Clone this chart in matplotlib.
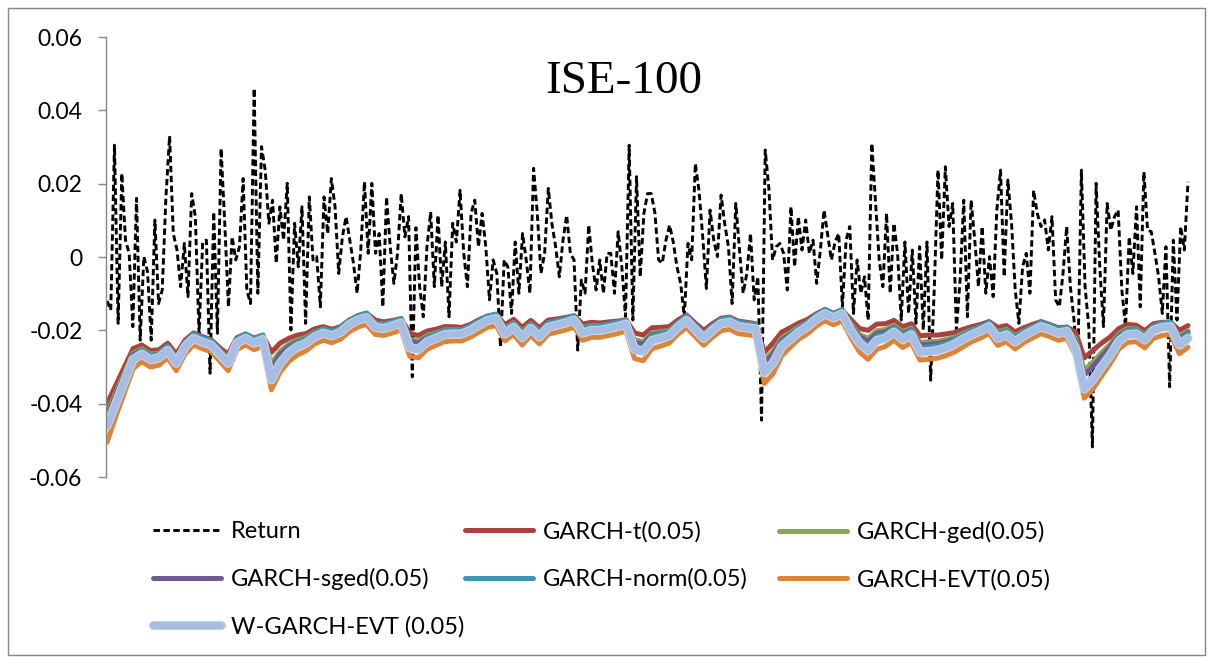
import numpy as np
import matplotlib
matplotlib.use("Agg")
import matplotlib.pyplot as plt
import matplotlib.patheffects as pe
from matplotlib.patches import Rectangle

plt.rcParams["axes.unicode_minus"] = False
plt.rcParams["font.family"] = ["Lato", "DejaVu Sans"]

# daily return, in units of 1e-4
ret = [
    -120, -145, 305, -181, 228, 46, 10, -190, 160, -227, 1, -40, -227, 101, -127, -90, 164, 330,
    64, 20, -81, 37, -108, 173, 110, -208, 41, 46, -317, 123, -208, 296, 92, -136, 55, -8,
    28, 214, -90, -127, 460, -99, 301, 237, 92, 155, -17, 137, 46, 201, -199, 92, -27, 137,
    -181, 164, -8, 1, -136, 164, 64, 214, 137, -45, 55, 110, 46, -17, -99, 19, 205, 10,
    201, 10, 64, -136, 164, 28, -72, 10, 173, 55, 110, -327, 80, -81, -163, 28, 123, -81,
    114, -81, 41, -163, 92, 41, 182, 10, -81, 119, 155, 28, 119, 28, -117, -8, -45, -245,
    -8, -27, -154, 41, -99, 64, -8, -99, 242, 120, -45, 10, 187, 90, 28, -54, 46, 114, 10,
    -8, -254, -63, -99, 87, -20, -90, -8, -99, 10, 10, -99, 69, -27, -163, 305, -172, 219, -54,
    119, 173, 173, 120, -8, -17, 46, 87, 40, -27, -72, -163, 37, -8, 255, 180, 55, -86, 128,
    46, 1, 169, 90, 28, -127, 146, 20, -99, -45, 64, -117, -54, -445, 292, 187, -8, 28,
    37, 10, -90, 137, -27, 110, 19, 101, 10, 46, -72, 19, 128, 60, -8, 41, 64, -136, 46,
    83, -154, -8, -99, -54, -172, 310, 150, -8, -81, 119, -99, 92, 10, -172, 41, -154, 19,
    -181, 28, -199, 41, -336, -81, 237, -8, 246, 83, 146, -199, -63, 155, -163, 155, 46, -81,
    83, -99, 1, -108, 128, 237, -54, 210, 92, -90, -181, -27, 10, -99, 182, 119, 83, 101, 19,
    110, -117, -136, -45, 83, -81, -172, -308, 237, -81, -190, -518, 201, -27, -190, 146, 73,
    110, 128, -90, -190, 55, -45, 137, -136, 232, 73, 69, 10, -54, -154, 28, -354, 46, -172,
    83, 19, 205,
]

# VaR(0.05) forecasts read every other day, units of 1e-4
var_t = [
    -400, -350, -300, -250, -240, -255, -253, -235, -265, -227,
    -207, -217, -225, -247, -265, -220, -210, -221, -213, -260,
    -235, -222, -213, -209, -196, -190, -197, -190, -172, -160,
    -153, -172, -177, -173, -168, -208, -214, -202, -197, -190,
    -190, -192, -184, -171, -161, -156, -185, -170, -192, -173,
    -193, -172, -169, -165, -160, -183, -178, -180, -177, -175,
    -171, -207, -213, -193, -192, -190, -172, -158, -180, -200,
    -182, -167, -164, -175, -178, -182, -260, -235, -205, -193,
    -180, -170, -155, -143, -154, -145, -170, -195, -200, -183,
    -182, -173, -190, -182, -215, -213, -213, -210, -206, -197,
    -190, -184, -176, -192, -187, -204, -193, -184, -176, -184,
    -193, -191, -205, -275, -255, -235, -218, -195, -184, -186,
    -201, -182, -178, -178, -200, -187,
]
var_ged = [
    -424, -370, -316, -262, -250, -265, -262, -243, -275, -234,
    -213, -223, -231, -254, -275, -226, -215, -227, -218, -290,
    -257, -238, -226, -219, -205, -197, -204, -196, -177, -165,
    -158, -180, -184, -179, -173, -224, -229, -214, -207, -199,
    -198, -199, -190, -177, -166, -161, -195, -179, -203, -182,
    -203, -180, -176, -171, -165, -193, -187, -188, -184, -181,
    -176, -225, -231, -207, -204, -200, -180, -164, -187, -209,
    -189, -173, -170, -181, -184, -188, -282, -257, -221, -206,
    -190, -178, -161, -148, -159, -149, -182, -211, -222, -201,
    -198, -186, -204, -194, -233, -231, -230, -225, -219, -208,
    -199, -191, -182, -204, -197, -215, -202, -191, -182, -190,
    -199, -196, -223, -309, -287, -261, -238, -209, -195, -196,
    -211, -189, -184, -183, -216, -201,
]
var_sged = [
    -433, -377, -322, -266, -254, -269, -265, -246, -279, -237,
    -215, -225, -233, -257, -279, -228, -217, -229, -220, -301,
    -265, -244, -231, -223, -208, -200, -207, -198, -179, -167,
    -160, -183, -187, -181, -175, -230, -235, -218, -211, -202,
    -201, -202, -193, -179, -168, -163, -199, -182, -207, -185,
    -207, -183, -178, -173, -167, -197, -190, -191, -187, -183,
    -178, -232, -238, -212, -208, -204, -183, -166, -190, -212,
    -192, -175, -172, -183, -186, -190, -290, -265, -227, -211,
    -194, -181, -163, -150, -161, -150, -186, -217, -230, -208,
    -204, -191, -209, -198, -240, -238, -236, -231, -224, -212,
    -202, -194, -184, -208, -201, -219, -205, -194, -184, -192,
    -201, -198, -230, -322, -299, -271, -245, -214, -199, -199,
    -215, -192, -186, -185, -222, -206,
]
var_norm = [
    -460, -397, -335, -272, -255, -270, -264, -243, -280, -233,
    -210, -220, -228, -253, -280, -223, -210, -223, -213, -320,
    -280, -250, -233, -223, -206, -196, -203, -193, -173, -160,
    -153, -180, -183, -176, -168, -240, -244, -220, -210, -200,
    -198, -198, -188, -174, -161, -156, -198, -180, -208, -183,
    -206, -180, -174, -168, -160, -196, -188, -188, -183, -178,
    -171, -242, -248, -216, -210, -203, -180, -161, -186, -210,
    -188, -170, -166, -178, -181, -184, -307, -282, -233, -213,
    -193, -178, -158, -143, -154, -143, -188, -223, -243, -216,
    -210, -193, -213, -200, -248, -246, -243, -236, -226, -212,
    -200, -190, -178, -210, -200, -220, -203, -190, -178, -186,
    -196, -191, -238, -350, -325, -290, -256, -218, -200, -198,
    -214, -188, -180, -178, -228, -210,
]
var_evt = [
    -505, -435, -370, -305, -285, -300, -295, -275, -310, -265,
    -240, -250, -258, -283, -310, -253, -240, -253, -243, -362,
    -314, -285, -267, -256, -237, -227, -234, -224, -204, -191,
    -184, -211, -214, -207, -199, -271, -275, -252, -241, -231,
    -229, -229, -219, -205, -192, -187, -229, -211, -240, -214,
    -237, -211, -205, -199, -191, -227, -219, -219, -214, -209,
    -202, -277, -283, -250, -243, -235, -211, -192, -217, -241,
    -219, -201, -197, -209, -212, -215, -345, -319, -270, -246,
    -224, -209, -189, -174, -185, -174, -219, -259, -279, -252,
    -244, -227, -247, -234, -281, -279, -276, -269, -259, -245,
    -231, -221, -209, -241, -231, -251, -234, -221, -209, -217,
    -227, -222, -268, -385, -360, -325, -291, -251, -233, -231,
    -248, -222, -214, -212, -264, -246,
]
var_wevt = [
    -460, -400, -340, -280, -265, -280, -275, -255, -290, -245,
    -222, -232, -240, -265, -290, -235, -222, -235, -225, -335,
    -290, -262, -245, -235, -218, -208, -215, -205, -185, -172,
    -165, -192, -195, -188, -180, -248, -252, -232, -222, -212,
    -210, -210, -200, -186, -173, -168, -210, -192, -220, -195,
    -218, -192, -186, -180, -172, -208, -200, -200, -195, -190,
    -183, -252, -258, -228, -222, -215, -192, -173, -198, -222,
    -200, -182, -178, -190, -193, -196, -315, -290, -245, -225,
    -205, -190, -170, -155, -166, -155, -200, -235, -255, -228,
    -222, -205, -225, -212, -260, -258, -255, -248, -238, -224,
    -212, -202, -190, -222, -212, -232, -215, -202, -190, -198,
    -208, -203, -250, -360, -335, -300, -268, -230, -212, -210,
    -226, -200, -192, -190, -240, -222,
]

labels = ["Return", "GARCH-t(0.05)", "GARCH-ged(0.05)", "GARCH-sged(0.05)",
          "GARCH-norm(0.05)", "GARCH-EVT(0.05)", "W-GARCH-EVT (0.05)"]
colors = ["black", "#A9423F", "#8AA64F", "#715A91", "#3E97B0", "#DE8436", "#A6BDE4"]
yticks = [-0.06, -0.04, -0.02, 0, 0.02, 0.04, 0.06]

W, H = 1212, 660
fig = plt.figure(figsize=(W / 100, H / 100), dpi=100)
ax = fig.add_axes([106 / W, 1 - 477 / H, (1195 - 106) / W, (477 - 37) / H])

x_ret = np.arange(len(ret))
x_var = np.linspace(0, len(ret) - 1, len(var_wevt))

lines = []
l, = ax.plot(x_ret, np.array(ret) / 1e4, color=colors[0], lw=2.1,
             linestyle=(0, (2.2, 1.2)), label=labels[0])
lines.append(l)
series = [var_t, var_ged, var_sged, var_norm, var_evt]
for s, lab, c in zip(series, labels[1:6], colors[1:6]):
    l, = ax.plot(x_var, np.array(s) / 1e4, color=c, lw=3.6,
                 solid_capstyle="round", solid_joinstyle="round", label=lab)
    lines.append(l)
l, = ax.plot(x_var, np.array(var_wevt) / 1e4, color=colors[6], lw=5.0,
             solid_capstyle="round", solid_joinstyle="round", label=labels[6],
             path_effects=[pe.Stroke(linewidth=6.6, foreground="#C4D3EC"), pe.Normal()])
lines.append(l)

ax.set_xlim(-0.3, len(ret) + 0.9)
ax.set_ylim(-0.06, 0.06)
ax.set_yticks(yticks)
ax.set_yticklabels(["%g" % v for v in yticks])
ax.set_xticks([])
for side in ["top", "right", "bottom"]:
    ax.spines[side].set_visible(False)
ax.spines["left"].set_color("#868686")
ax.spines["left"].set_linewidth(1.0)
ax.tick_params(axis="y", direction="out", length=6, width=1.0, color="#868686",
               labelsize=16.5, pad=11, labelcolor="black")

fig.text(624 / W, 1 - 93 / H, "ISE-100", family="Liberation Serif", fontsize=34,
         ha="center", va="baseline")

# legend laid out row by row like the original, one legend per column
cols = [[0, 3, 6], [1, 4], [2, 5]]
col_x = [153, 465, 779]
kw = dict(loc="upper left", frameon=False, borderpad=0, borderaxespad=0,
          handlelength=2.9, handletextpad=0.4, labelspacing=1.1, fontsize=17,
          bbox_transform=fig.transFigure)
for idx, cx in zip(cols, col_x):
    fig.legend(handles=[lines[i] for i in idx], labels=[labels[i] for i in idx],
               bbox_to_anchor=(cx / W, 1 - 521 / H), **kw)

fig.patches.append(Rectangle((8 / W, 1 - 655 / H), (1205 - 8) / W, (655 - 8) / H,
                             transform=fig.transFigure, fill=False,
                             edgecolor="#868686", lw=1.0))

fig.savefig("out.png", dpi=100)
